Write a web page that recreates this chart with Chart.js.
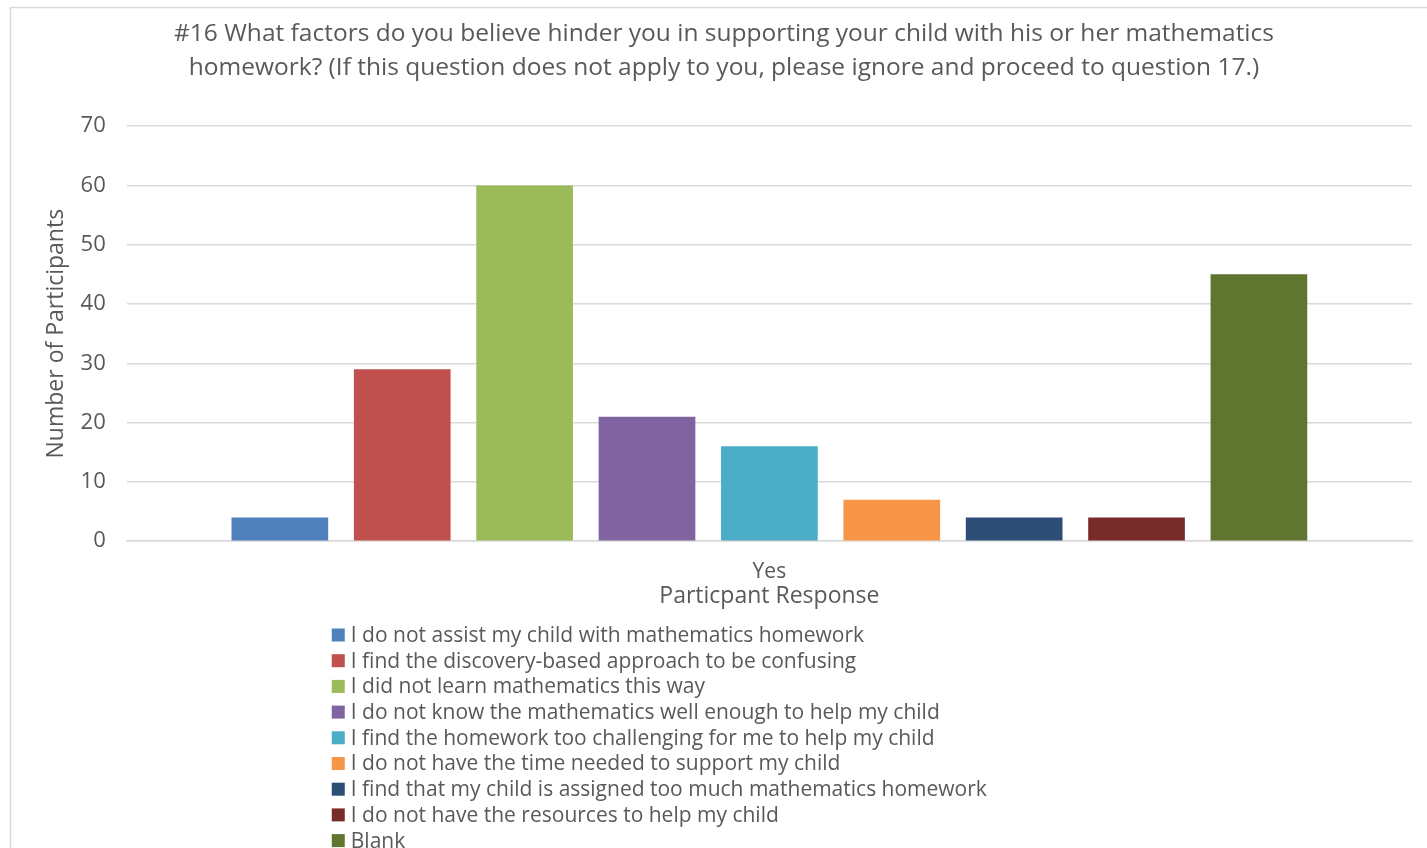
<!DOCTYPE html>
<html>
<head>
<meta charset="utf-8">
<script src="https://cdn.jsdelivr.net/npm/chart.js@4/dist/chart.umd.min.js"></script>
<style>
  html, body { margin: 0; padding: 0; background: #fff; }
  #wrap { width: 1427px; height: 848px; }
</style>
</head>
<body>
<div id="wrap"><canvas id="grafico"></canvas></div>
<script>
// respostas da pergunta 16
var categorias = ['Yes']
var fatores = [
  'I do not assist my child with mathematics homework',
  'I find the discovery-based approach to be confusing',
  'I did not learn mathematics this way',
  'I do not know the mathematics well enough to help my child',
  'I find the homework too challenging for me to help my child',
  'I do not have the time needed to support my child',
  'I find that my child is assigned too much mathematics homework',
  'I do not have the resources to help my child',
  'Blank'
]
var participantes = [4, 29, 60, 21, 16, 7, 4, 4, 45]
var cores = ['#4F81BD', '#C0504D', '#9BBB59', '#8064A2', '#4BACC6', '#F79646', '#2C4D75', '#772C2A', '#5F7530']
var ticksY = [0, 10, 20, 30, 40, 50, 60, 70]

var cinza = '#595959'
var fonte = "'Open Sans', sans-serif"

// fundo branco e moldura cinza
var moldura = {
  id: 'moldura',
  beforeDraw(chart) {
    var ctx = chart.ctx
    ctx.save()
    ctx.fillStyle = '#fff'
    ctx.fillRect(0, 0, chart.width, chart.height)
    ctx.strokeStyle = '#d9d9d9'
    ctx.lineWidth = 1.5
    ctx.strokeRect(10.5, 7.5, chart.width + 20, chart.height + 20)
    ctx.restore()
  }
}

// legenda em lista vertical embaixo do eixo x
var legendaLista = {
  id: 'legendaLista',
  afterDraw(chart) {
    var ctx = chart.ctx
    var topo = chart.scales.x.bottom + 25
    var esq = chart.chartArea.left + 205
    ctx.save()
    ctx.font = '21px ' + fonte
    ctx.textBaseline = 'middle'
    chart.data.datasets.forEach(function (ds, i) {
      var y = topo + i * 25.7
      ctx.fillStyle = ds.backgroundColor
      ctx.fillRect(esq, y - 6.5, 13, 13)
      ctx.fillStyle = cinza
      ctx.fillText(ds.label, esq + 19, y + 1)
    })
    ctx.restore()
  }
}

var datasets = fatores.map(function (f, i) {
  return {
    label: f,
    data: [participantes[i]],
    backgroundColor: cores[i],
    borderWidth: 0,
    categoryPercentage: 0.857,
    barPercentage: 0.79
  }
})

new Chart(document.getElementById('grafico'), {
  type: 'bar',
  data: { labels: categorias, datasets: datasets },
  options: {
    responsive: true,
    maintainAspectRatio: false,
    animation: false,
    layout: { padding: { left: 36, right: 15, top: 7, bottom: 238 } },
    plugins: {
      legend: { display: false },
      tooltip: { enabled: false },
      title: {
        display: true,
        text: ['#16 What factors do you believe hinder you in supporting your child with his or her mathematics',
               'homework? (If this question does not apply to you, please ignore and proceed to question 17.)'],
        color: cinza,
        font: { family: fonte, size: 24.5, weight: 'normal', lineHeight: 1.39 },
        padding: { top: 10, bottom: 41 }
      }
    },
    scales: {
      x: {
        grid: { display: false, drawTicks: false },
        border: { display: true, color: '#d9d9d9', width: 1.5 },
        ticks: { color: cinza, font: { family: fonte, size: 21 }, padding: 18 },
        title: {
          display: true, text: 'Particpant Response', color: cinza,
          font: { family: fonte, size: 23 }, padding: { top: -20, bottom: 0 }
        }
      },
      y: {
        min: 0, max: 70,
        afterBuildTicks(axis) { axis.ticks = ticksY.map(function (v) { return { value: v } }) },
        grid: { color: '#d9d9d9', lineWidth: 1.5, drawTicks: false },
        border: { display: false },
        ticks: { color: cinza, font: { family: fonte, size: 22 }, padding: 21 },
        title: {
          display: true, text: 'Number of Participants', color: cinza,
          font: { family: fonte, size: 23 }, padding: { top: 7, bottom: -11 }
        }
      }
    }
  },
  plugins: [moldura, legendaLista]
})
</script>
</body>
</html>
